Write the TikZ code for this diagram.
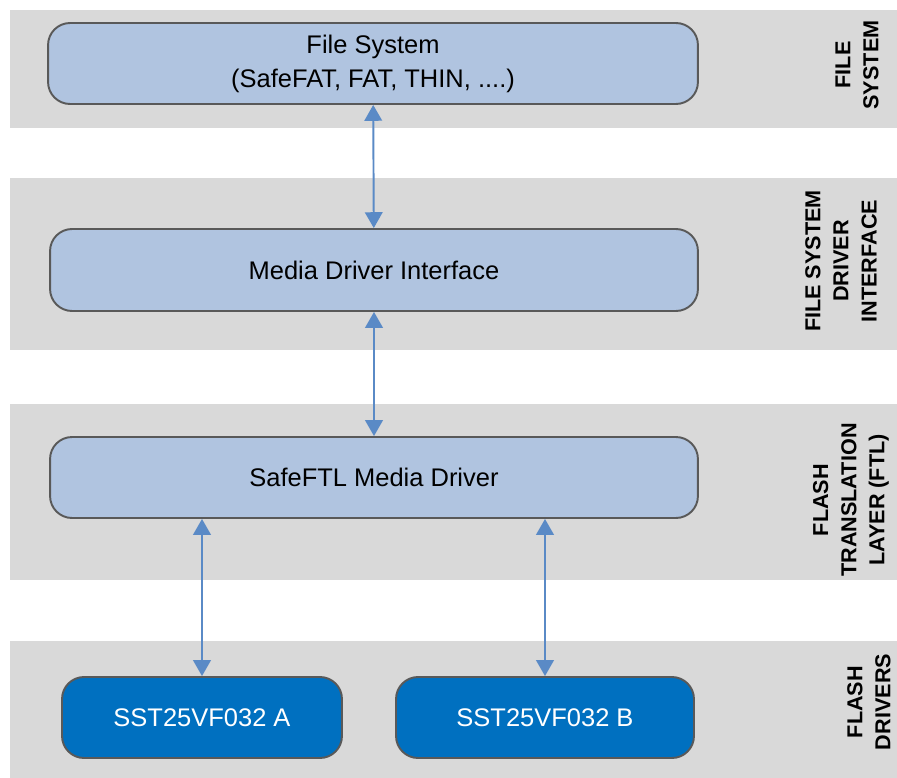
\documentclass[tikz,border=0pt]{standalone}
\usepackage{fontspec}
\setmainfont{Liberation Sans}
\usetikzlibrary{arrows.meta}
\definecolor{bandgray}{HTML}{D9D9D9}
\definecolor{paleblue}{HTML}{B0C4E0}
\definecolor{chipblue}{HTML}{0070C0}
\definecolor{linkblue}{HTML}{5A8AC6}
\definecolor{rimgray}{HTML}{595959}
\tikzset{
    >={Triangle[length=9pt,width=10pt]},
    stack/.style={
        layer/.append style={fill=bandgray},
        block/.append style={align=center,draw=rimgray,line width=1.1pt,fill=paleblue,rounded corners=0.44cm,minimum width=12.96cm,minimum height=1.62cm,font=\fontsize{14.5}{19.3}\selectfont},
        chip/.append style={block,fill=chipblue,text=white},
        tag/.append style={align=center,rotate=90,inner sep=0pt,font=\fontsize{12.3}{16}\selectfont\bfseries},
        link/.append style={<->,draw=linkblue,line width=1.1pt},
        every edge/.append style={draw}
    }
}

\begin{document}
\begin{tikzpicture}[stack,x=0.02cm,y=-0.02cm]
    \useasboundingbox (0,0) rectangle (897,778);
    % layers
    \fill[layer] (10,10) rectangle (897,128);
    \fill[layer] (10,178) rectangle (897,350);
    \fill[layer] (10,404) rectangle (897,580);
    \fill[layer] (10,641) rectangle (897,778);
    \node[tag] (tfs) at (857,65) {FILE\\SYSTEM};
    \node[tag] (tfsdi) at (841,261) {FILE SYSTEM\\DRIVER\\INTERFACE};
    \node[tag] (tftl) at (851,500) {FLASH\\TRANSLATION\\LAYER (FTL)};
    \node[tag] (tfd) at (869,702) {FLASH\\DRIVERS};
    % blocks
    \node[block,minimum width=13cm,text depth=0.5ex] (fs) at (373,63.5) {File System\\(SafeFAT, FAT, THIN, ....)};
    \node[block,minimum height=1.64cm] (mdi) at (374,270) {Media Driver Interface} edge[link] (fs);
    \node[block] (ftl) at (374,477.5) {SafeFTL Media Driver} edge[link] (mdi);
    \node[chip,minimum width=5.6cm] (sstA) at (202,717.5) {SST25VF032 A} edge[link] (sstA.north |- ftl.south);
    \node[chip,minimum width=5.96cm] (sstB) at (545,717.5) {SST25VF032 B} edge[link] (sstB.north |- ftl.south);
\end{tikzpicture}
\end{document}
